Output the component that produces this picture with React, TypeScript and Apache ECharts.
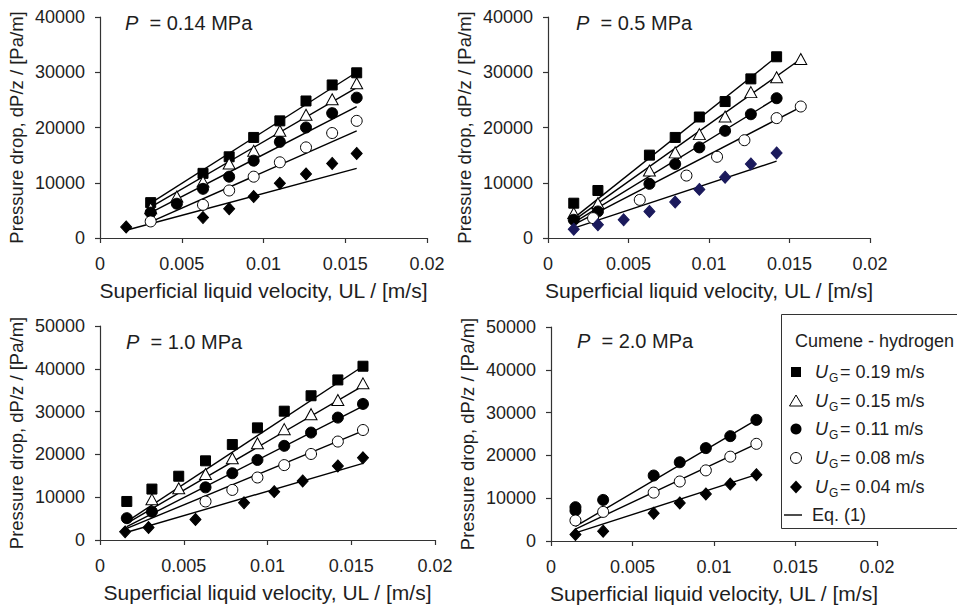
import React, { useEffect, useRef } from "react";
import * as echarts from "echarts";

const FONT = '"Liberation Sans", Arial, Helvetica, sans-serif';
const INK = "#1e1e1e";

// x tick labels / axis ranges
const xTicks = [0, 0.005, 0.01, 0.015, 0.02];
const yMaxTop = 40000;
const yMaxBottom = 50000;
const panelTitles = ["0.14 MPa", "0.5 MPa", "1.0 MPa", "2.0 MPa"];
const legendLabels = ["= 0.19 m/s", "= 0.15 m/s", "= 0.11 m/s", "= 0.08 m/s", "= 0.04 m/s"];

// ---------- P = 0.14 MPa ----------
const p014_019 = [[0.0031, 6400], [0.0063, 11700], [0.0079, 14700], [0.0094, 18200], [0.011, 21200], [0.0126, 24800], [0.0142, 27700], [0.0157, 29900]];
const p014_015 = [[0.0031, 5400], [0.0047, 7500], [0.0063, 10200], [0.0079, 13500], [0.0094, 15800], [0.011, 19400], [0.0126, 22300], [0.0142, 25100], [0.0157, 28000]];
const p014_011 = [[0.0031, 4600], [0.0047, 6200], [0.0063, 8900], [0.0079, 11100], [0.0094, 14000], [0.011, 17400], [0.0126, 20000], [0.0142, 22600], [0.0157, 25400]];
const p014_008 = [[0.0031, 3000], [0.0063, 6000], [0.0079, 8600], [0.0094, 11100], [0.011, 13700], [0.0126, 16400], [0.0142, 19000], [0.0157, 21200]];
const p014_004 = [[0.0016, 2000], [0.0063, 3700], [0.0079, 5300], [0.0094, 7500], [0.011, 9900], [0.0126, 11600], [0.0142, 13500], [0.0157, 15300]];
const p014_eq019 = [[0.0031, 6300], [0.0157, 30000]];
const p014_eq015 = [[0.0031, 5600], [0.0157, 27200]];
const p014_eq011 = [[0.0031, 4600], [0.0157, 23800]];
const p014_eq008 = [[0.0031, 2900], [0.0157, 19400]];
const p014_eq004 = [[0.0016, 1400], [0.0157, 12600]];

// ---------- P = 0.5 MPa ----------
const p05_019 = [[0.0016, 6300], [0.0031, 8600], [0.0063, 15000], [0.0079, 18200], [0.0094, 21900], [0.011, 24700], [0.0126, 28800], [0.0142, 32800]];
const p05_015 = [[0.0016, 4500], [0.0031, 6300], [0.0063, 12200], [0.0079, 15500], [0.0094, 18800], [0.011, 22000], [0.0126, 26400], [0.0142, 29100], [0.0157, 32400]];
const p05_011 = [[0.0016, 3300], [0.0031, 4800], [0.0063, 9800], [0.0079, 13400], [0.0094, 16400], [0.011, 19400], [0.0126, 22400], [0.0142, 25300]];
const p05_008 = [[0.0028, 3600], [0.0057, 6900], [0.0086, 11300], [0.0105, 14700], [0.0122, 17700], [0.0142, 21700], [0.0157, 23800]];
const p05_004 = [[0.0016, 1600], [0.0031, 2400], [0.0047, 3300], [0.0063, 4800], [0.0079, 6500], [0.0094, 8800], [0.011, 11000], [0.0126, 13400], [0.0142, 15400]];
const p05_eq019 = [[0.0016, 3600], [0.0142, 32800]];
const p05_eq015 = [[0.0016, 3200], [0.0157, 32400]];
const p05_eq011 = [[0.0016, 2800], [0.0142, 25300]];
const p05_eq008 = [[0.0016, 2400], [0.0157, 23700]];
const p05_eq004 = [[0.0016, 1800], [0.0142, 13900]];

// ---------- P = 1.0 MPa ----------
const p10_019 = [[0.0016, 9000], [0.0031, 11900], [0.0047, 14900], [0.0063, 18500], [0.0079, 22300], [0.0094, 26200], [0.011, 30100], [0.0126, 33700], [0.0142, 37400], [0.0157, 40600]];
const p10_015 = [[0.0031, 9500], [0.0047, 12100], [0.0063, 15400], [0.0079, 19100], [0.0094, 22600], [0.011, 25900], [0.0126, 29400], [0.0142, 32700], [0.0157, 36600]];
const p10_011 = [[0.0016, 5100], [0.0031, 6600], [0.0063, 12300], [0.0079, 15600], [0.0094, 18700], [0.011, 22000], [0.0126, 25100], [0.0142, 28600], [0.0157, 31800]];
const p10_008 = [[0.0063, 9000], [0.0079, 11700], [0.0094, 14600], [0.011, 17500], [0.0126, 20100], [0.0142, 23000], [0.0157, 25700]];
const p10_004 = [[0.0015, 1900], [0.0029, 2900], [0.0057, 4800], [0.0086, 8700], [0.0104, 11300], [0.0121, 13800], [0.0142, 17300], [0.0157, 19200]];
const p10_eq019 = [[0.0016, 4300], [0.0157, 40600]];
const p10_eq015 = [[0.0016, 3900], [0.0157, 36000]];
const p10_eq011 = [[0.0016, 3100], [0.0157, 31300]];
const p10_eq008 = [[0.0016, 2700], [0.0157, 25500]];
const p10_eq004 = [[0.0015, 1700], [0.0157, 17900]];

// ---------- P = 2.0 MPa ----------
const p20_011 = [[0.0015, 7900], [0.0015, 7100], [0.0032, 9600], [0.0063, 15300], [0.0079, 18400], [0.0095, 21700], [0.011, 24500], [0.0126, 28300]];
const p20_008 = [[0.0015, 4800], [0.0032, 6800], [0.0063, 11300], [0.0079, 13900], [0.0095, 16500], [0.011, 19700], [0.0126, 22700]];
const p20_004 = [[0.0015, 1500], [0.0032, 2300], [0.0063, 6500], [0.0079, 8900], [0.0095, 11000], [0.011, 13300], [0.0126, 15500]];
const p20_eq011 = [[0.0015, 3400], [0.0126, 28300]];
const p20_eq008 = [[0.0015, 2800], [0.0126, 22700]];
const p20_eq004 = [[0.0015, 1900], [0.0126, 15500]];

type Marker = { symbol: string; size: any; fill: string; border: string };
const MARK: Record<string, Marker> = {
  "019": { symbol: "rect", size: 10, fill: "#000", border: "#000" },
  "015": { symbol: "triangle", size: [12, 11], fill: "#fff", border: "#000" },
  "011": { symbol: "circle", size: 11, fill: "#000", border: "#000" },
  "008": { symbol: "circle", size: 11, fill: "#fff", border: "#000" },
  "004": { symbol: "diamond", size: [11, 12], fill: "#000", border: "#000" },
};

const panels = [
  {
    grid: { left: 100, top: 17, width: 327, height: 221 },
    yMax: yMaxTop,
    pts: [["019", p014_019], ["015", p014_015], ["011", p014_011], ["008", p014_008], ["004", p014_004]],
    eq: [p014_eq019, p014_eq015, p014_eq011, p014_eq008, p014_eq004],
    title: { x: 125, y: 23 },
    diamondColor: "#000",
  },
  {
    grid: { left: 548, top: 17, width: 322, height: 221 },
    yMax: yMaxTop,
    pts: [["019", p05_019], ["015", p05_015], ["011", p05_011], ["008", p05_008], ["004", p05_004]],
    eq: [p05_eq019, p05_eq015, p05_eq011, p05_eq008, p05_eq004],
    title: { x: 576, y: 23 },
    diamondColor: "#1b1a5c",
  },
  {
    grid: { left: 100, top: 326, width: 335, height: 214 },
    yMax: yMaxBottom,
    pts: [["019", p10_019], ["015", p10_015], ["011", p10_011], ["008", p10_008], ["004", p10_004]],
    eq: [p10_eq019, p10_eq015, p10_eq011, p10_eq008, p10_eq004],
    title: { x: 126, y: 342 },
    diamondColor: "#000",
  },
  {
    grid: { left: 551, top: 327, width: 326, height: 214 },
    yMax: yMaxBottom,
    pts: [["011", p20_011], ["008", p20_008], ["004", p20_004]],
    eq: [p20_eq011, p20_eq008, p20_eq004],
    title: { x: 577, y: 341 },
    diamondColor: "#000",
  },
];

const fmtX = (v: number) => String(parseFloat(v.toFixed(4)));
const fmtY = (v: number) => String(Math.round(v));

function buildOption() {
  const grid: any[] = [];
  const xAxis: any[] = [];
  const yAxis: any[] = [];
  const series: any[] = [];
  const graphic: any[] = [];

  panels.forEach((p, i) => {
    grid.push({ ...p.grid, containLabel: false });
    xAxis.push({
      type: "value",
      gridIndex: i,
      min: xTicks[0],
      max: xTicks[xTicks.length - 1],
      interval: 0.005,
      name: "Superficial liquid velocity, UL / [m/s]",
      nameLocation: "middle",
      nameGap: 42,
      nameTextStyle: { fontFamily: FONT, fontSize: 21, color: INK },
      axisLine: { show: true, onZero: false, lineStyle: { color: "#333", width: 1.2 } },
      axisTick: { show: true, length: 5, lineStyle: { color: "#333", width: 1.2 } },
      axisLabel: { margin: 17, fontFamily: FONT, fontSize: 18, color: INK, formatter: fmtX },
      splitLine: { show: false },
    });
    yAxis.push({
      type: "value",
      gridIndex: i,
      min: 0,
      max: p.yMax,
      interval: 10000,
      name: "Pressure drop, dP/z / [Pa/m]",
      nameLocation: "middle",
      nameRotate: 90,
      nameGap: 74,
      nameTextStyle: { fontFamily: FONT, fontSize: 18.5, color: INK },
      axisLine: { show: true, lineStyle: { color: "#333", width: 1.2 } },
      axisTick: { show: true, length: 5, lineStyle: { color: "#333", width: 1.2 } },
      axisLabel: { margin: 15, fontFamily: FONT, fontSize: 18, color: INK, formatter: fmtY },
      splitLine: { show: false },
    });

    p.eq.forEach((d) => {
      series.push({
        type: "line",
        xAxisIndex: i,
        yAxisIndex: i,
        data: d,
        symbol: "none",
        lineStyle: { color: "#000", width: 1.4 },
        z: 2,
        silent: true,
      });
    });
    p.pts.forEach(([key, d]: any) => {
      const m = MARK[key];
      const fill = key === "004" ? p.diamondColor : m.fill;
      series.push({
        type: "scatter",
        xAxisIndex: i,
        yAxisIndex: i,
        data: d,
        symbol: m.symbol,
        symbolSize: m.size,
        itemStyle: { color: fill, borderColor: key === "004" ? p.diamondColor : m.border, borderWidth: 1, opacity: 1 },
        z: 3,
      });
    });

    graphic.push({
      type: "text",
      x: p.title.x,
      y: p.title.y,
      style: {
        text: "{i|P}  = " + panelTitles[i],
        rich: { i: { fontStyle: "italic", fontFamily: FONT, fontSize: 20, fill: INK } },
        fontFamily: FONT,
        fontSize: 20,
        fill: INK,
        verticalAlign: "middle",
      },
    });
  });

  // legend box
  graphic.push({
    type: "rect",
    shape: { x: 781.5, y: 314.5, width: 190, height: 214 },
    style: { fill: "#fff", stroke: "#333", lineWidth: 1 },
    z: 10,
  });
  graphic.push({
    type: "text",
    x: 795,
    y: 341,
    style: { text: "Cumene - hydrogen", fontFamily: FONT, fontSize: 18, fill: INK, verticalAlign: "middle" },
    z: 11,
  });
  const rows = [372, 401, 429, 458, 487];
  const mx = 796;
  graphic.push({ type: "rect", shape: { x: mx - 5, y: rows[0] - 5, width: 10, height: 10 }, style: { fill: "#000" }, z: 11 });
  graphic.push({
    type: "polygon",
    shape: { points: [[mx, rows[1] - 6], [mx + 6.5, rows[1] + 5], [mx - 6.5, rows[1] + 5]] },
    style: { fill: "#fff", stroke: "#000", lineWidth: 1 },
    z: 11,
  });
  graphic.push({ type: "circle", shape: { cx: mx, cy: rows[2], r: 5.5 }, style: { fill: "#000" }, z: 11 });
  graphic.push({ type: "circle", shape: { cx: mx, cy: rows[3], r: 5.5 }, style: { fill: "#fff", stroke: "#000", lineWidth: 1 }, z: 11 });
  graphic.push({
    type: "polygon",
    shape: { points: [[mx, rows[4] - 6.5], [mx + 6, rows[4]], [mx, rows[4] + 6.5], [mx - 6, rows[4]]] },
    style: { fill: "#000" },
    z: 11,
  });
  rows.forEach((ry, k) => {
    graphic.push({
      type: "text",
      x: 815,
      y: ry,
      style: { text: "U", fontFamily: FONT, fontSize: 18, fontStyle: "italic", fill: INK, verticalAlign: "middle" },
      z: 11,
    });
    graphic.push({
      type: "text",
      x: 829,
      y: ry + 6,
      style: { text: "G", fontFamily: FONT, fontSize: 12, fill: INK, verticalAlign: "middle" },
      z: 11,
    });
    graphic.push({
      type: "text",
      x: 840,
      y: ry,
      style: { text: legendLabels[k], fontFamily: FONT, fontSize: 18, fill: INK, verticalAlign: "middle" },
      z: 11,
    });
  });
  graphic.push({
    type: "line",
    shape: { x1: 784, y1: 515, x2: 802, y2: 515 },
    style: { stroke: "#000", lineWidth: 1.4 },
    z: 11,
  });
  graphic.push({
    type: "text",
    x: 812,
    y: 515,
    style: { text: "Eq. (1)", fontFamily: FONT, fontSize: 18, fill: INK, verticalAlign: "middle" },
    z: 11,
  });

  return {
    animation: false,
    backgroundColor: "#fff",
    textStyle: { fontFamily: FONT },
    grid,
    xAxis,
    yAxis,
    series,
    graphic,
  };
}

export default function App() {
  const ref = useRef<HTMLDivElement>(null);
  useEffect(() => {
    if (!ref.current) return;
    const chart = echarts.init(ref.current, undefined, { renderer: "svg" });
    chart.setOption(buildOption() as any);
    return () => chart.dispose();
  }, []);
  return (
    <div
      ref={ref}
      style={{ position: "absolute", left: 0, top: 0, width: 957, height: 611, background: "#fff" }}
    />
  );
}
